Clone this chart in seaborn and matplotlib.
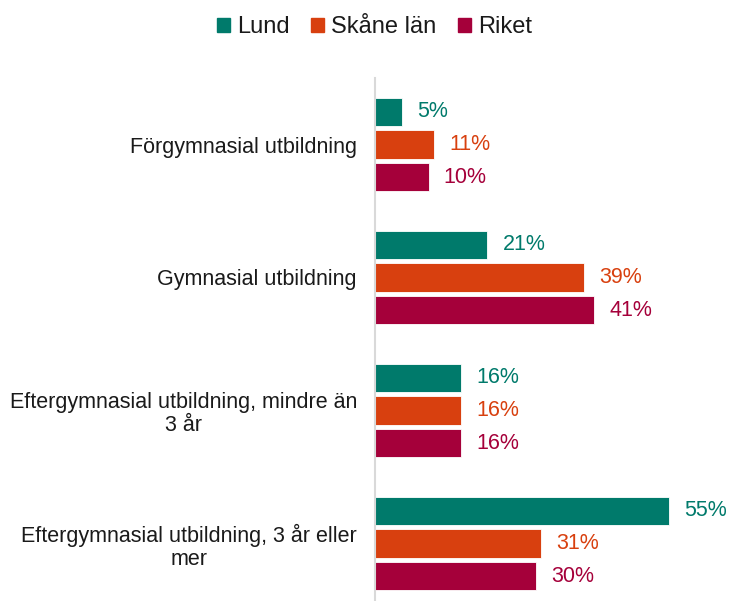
import numpy as np
import pandas as pd
import matplotlib
matplotlib.use("Agg")
import matplotlib.pyplot as plt
import seaborn as sns

kategorier = ["Förgymnasial utbildning",
              "Gymnasial utbildning",
              "Eftergymnasial utbildning, mindre än\n3 år",
              "Eftergymnasial utbildning, 3 år eller\nmer"]
serier = ["Lund", "Skåne län", "Riket"]
lund = [5, 21, 16, 55]
skane = [11, 39, 16, 31]
riket = [10, 41, 16, 30]
farger = ["#007A6B", "#D8400F", "#A5003A"]

df = pd.DataFrame({
    "kategori": kategorier * 3,
    "serie": [s for s in serier for _ in kategorier],
    "varde": lund + skane + riket,
})

sns.set_style("white")
plt.rcParams["font.family"] = ["Liberation Sans", "DejaVu Sans"]

fig = plt.figure(figsize=(7.30, 6.01), dpi=100)
ax = fig.add_axes([375 / 730, -9 / 601, 321 / 730, 532 / 601])

sns.barplot(data=df, y="kategori", x="varde", hue="serie", order=kategorier,
            hue_order=serier, palette=farger, orient="h", width=0.735, gap=0.12,
            saturation=1, edgecolor="white", linewidth=0.6, ax=ax)

ax.set_xlim(0, 60)
ax.set_xlabel("")
ax.set_ylabel("")
ax.set_xticks([])
for s in ["top", "right", "bottom"]:
    ax.spines[s].set_visible(False)
ax.spines["left"].set_color("#D9D9D9")
ax.spines["left"].set_linewidth(1.5)
ax.tick_params(axis="y", length=0, pad=13, labelsize=15.5)
for lbl in ax.get_yticklabels():
    lbl.set_multialignment("center")
    lbl.set_linespacing(1.1)
    lbl.set_color("#1A1A1A")

for cont, col in zip(ax.containers, farger):
    ax.bar_label(cont, labels=[f"{v:.0f}%" for v in cont.datavalues],
                 padding=11, color=col, fontsize=15.5)

ax.legend_.remove()
handles = [plt.Rectangle((0, 0), 1, 1, color=c) for c in farger]
fig.legend(handles, serier, loc="center", bbox_to_anchor=(0.513, 1 - 27 / 601),
           ncol=3, frameon=False, fontsize=17, handlelength=0.55, handleheight=0.55,
           handletextpad=0.3, columnspacing=0.9, labelcolor="#1A1A1A")

fig.savefig("out.png", dpi=100)
